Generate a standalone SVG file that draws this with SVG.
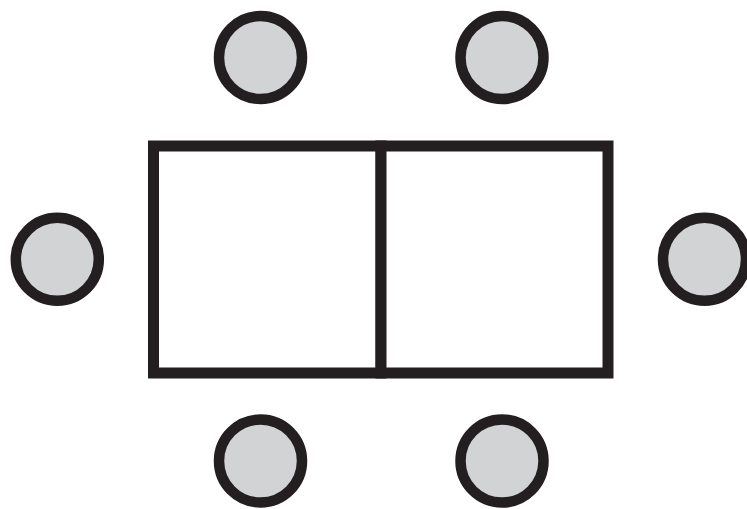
<svg xmlns="http://www.w3.org/2000/svg" width="747" height="509" viewBox="0 0 747 509">
<style>
.seat{fill:#d1d3d4;stroke:#231f20;stroke-width:10.5}
.tbl{fill:#ffffff;stroke:#231f20;stroke-width:11}
</style>
<rect width="747" height="509" fill="#ffffff"/>
<g id="table">
<rect class="tbl" x="153.5" y="146" width="227.5" height="227"/>
<rect class="tbl" x="381" y="146" width="227" height="227"/>
</g>
<g id="seat-top-left"><circle class="seat" cx="260.5" cy="57.5" r="41.5"/></g>
<g id="seat-top-right"><circle class="seat" cx="502" cy="57.5" r="41.5"/></g>
<g id="seat-left"><circle class="seat" cx="57.3" cy="259.3" r="41.5"/></g>
<g id="seat-right"><circle class="seat" cx="704.5" cy="259.3" r="41.5"/></g>
<g id="seat-bottom-left"><circle class="seat" cx="260.5" cy="461" r="41.5"/></g>
<g id="seat-bottom-right"><circle class="seat" cx="502" cy="461" r="41.5"/></g>
<g id="connectors"></g>
</svg>
